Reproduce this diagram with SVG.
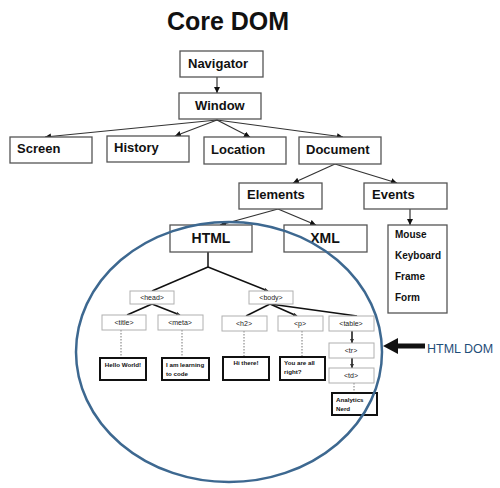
<svg xmlns="http://www.w3.org/2000/svg" width="500" height="488" viewBox="0 0 500 488">
<style>
.bx{fill:#fff;stroke:#555;stroke-width:1.3}
.tg{fill:#fff;stroke:#b0b0b0;stroke-width:1}
.ct{fill:#fff;stroke:#111;stroke-width:2}
.t{font-family:"Liberation Sans",Arial,sans-serif;font-weight:bold;fill:#111}
.b{font-size:13px}
.s{font-size:10px}
.x{font-size:7px;font-weight:normal;fill:#222}
.c{font-size:6.2px}
.ln{stroke:#333;stroke-width:1.2;fill:none}
.lk{stroke:#111;stroke-width:1.5;fill:none}
.dt{stroke:#777;stroke-width:1;stroke-dasharray:1.5 1.5;fill:none}
</style>
<defs>
<marker id="ah" viewBox="0 0 10 10" refX="10" refY="5" markerWidth="6" markerHeight="6" markerUnits="userSpaceOnUse" orient="auto"><path d="M0,0L10,5L0,10z" fill="#111"/></marker>
<marker id="as" viewBox="0 0 10 10" refX="10" refY="5" markerWidth="4" markerHeight="4" markerUnits="userSpaceOnUse" orient="auto"><path d="M0,0L10,5L0,10z" fill="#333"/></marker>
</defs>
<rect width="500" height="488" fill="#fff"/>
<text x="228" y="30" text-anchor="middle" font-family="'Liberation Sans',Arial,sans-serif" font-weight="bold" font-size="25" fill="#111">Core DOM</text>

<g id="connectors">
<line class="ln" x1="217" y1="77" x2="217" y2="93" marker-end="url(#ah)"/>
<line class="ln" x1="217" y1="120" x2="45" y2="137" marker-end="url(#ah)"/>
<line class="ln" x1="217" y1="120" x2="175" y2="136" marker-end="url(#ah)"/>
<line class="ln" x1="217" y1="120" x2="250" y2="137" marker-end="url(#ah)"/>
<line class="ln" x1="217" y1="120" x2="343" y2="137" marker-end="url(#ah)"/>
<line class="ln" x1="335" y1="164" x2="293" y2="183" marker-end="url(#ah)"/>
<line class="ln" x1="335" y1="164" x2="397" y2="183" marker-end="url(#ah)"/>
<line class="ln" x1="278" y1="209" x2="220" y2="225" marker-end="url(#ah)"/>
<line class="ln" x1="278" y1="209" x2="316" y2="225" marker-end="url(#ah)"/>
<line class="ln" x1="410" y1="209" x2="410" y2="225" marker-end="url(#ah)"/>
<line class="lk" x1="208" y1="252" x2="208" y2="267"/>
<line class="lk" x1="208" y1="267" x2="152" y2="291"/>
<line class="lk" x1="208" y1="267" x2="268" y2="291" marker-end="url(#as)"/>
<line class="lk" x1="152" y1="304" x2="127" y2="315"/>
<line class="lk" x1="152" y1="304" x2="180" y2="315" marker-end="url(#as)"/>
<line class="lk" x1="270" y1="304" x2="246" y2="316"/>
<line class="lk" x1="270" y1="304" x2="297" y2="316" marker-end="url(#as)"/>
<line class="lk" x1="270" y1="304" x2="357" y2="316"/>
<line class="lk" x1="352" y1="331" x2="352" y2="343" marker-end="url(#as)"/>
<line class="lk" x1="352" y1="358" x2="352" y2="368" marker-end="url(#as)"/>
<line class="dt" x1="121" y1="330" x2="121" y2="358"/>
<line class="dt" x1="182" y1="330" x2="182" y2="358"/>
<line class="dt" x1="244" y1="331" x2="244" y2="357"/>
<line class="dt" x1="302" y1="331" x2="302" y2="357"/>
<line class="dt" x1="354" y1="383" x2="354" y2="393"/>
</g>

<g id="navigator"><rect class="bx" x="180" y="51" width="83" height="26"/><text class="t b" x="188" y="68">Navigator</text></g>
<g id="window"><rect class="bx" x="179" y="93" width="82" height="26"/><text class="t b" x="195" y="110">Window</text></g>
<g id="screen"><rect class="bx" x="10" y="137" width="82" height="26"/><text class="t b" x="17" y="153">Screen</text></g>
<g id="history"><rect class="bx" x="107" y="136" width="82" height="26"/><text class="t b" x="114" y="152">History</text></g>
<g id="location"><rect class="bx" x="204" y="137" width="82" height="27"/><text class="t b" x="211" y="154">Location</text></g>
<g id="document"><rect class="bx" x="299" y="137" width="82" height="27"/><text class="t b" x="306" y="154">Document</text></g>
<g id="elements"><rect class="bx" x="239" y="183" width="83" height="26"/><text class="t b" x="247" y="199">Elements</text></g>
<g id="events"><rect class="bx" x="364" y="183" width="83" height="26"/><text class="t b" x="372" y="199">Events</text></g>
<g id="events-list"><rect class="bx" x="388" y="225" width="59" height="88"/>
<text class="t s" x="395" y="238">Mouse</text><text class="t s" x="395" y="259">Keyboard</text><text class="t s" x="395" y="280">Frame</text><text class="t s" x="395" y="301">Form</text></g>
<g id="html"><rect class="bx" x="170" y="225" width="82" height="27"/><text class="t" font-size="14" x="211" y="243" text-anchor="middle">HTML</text></g>
<g id="xml"><rect class="bx" x="284" y="225" width="83" height="27"/><text class="t" font-size="14" x="325" y="243" text-anchor="middle">XML</text></g>

<g id="head"><rect class="tg" x="130" y="291" width="44" height="13"/><text class="t x" x="152" y="300" text-anchor="middle">&lt;head&gt;</text></g>
<g id="body"><rect class="tg" x="249" y="291" width="44" height="13"/><text class="t x" x="271" y="300" text-anchor="middle">&lt;body&gt;</text></g>
<g id="title"><rect class="tg" x="102" y="315" width="44" height="15"/><text class="t x" x="124" y="325" text-anchor="middle">&lt;title&gt;</text></g>
<g id="meta"><rect class="tg" x="158" y="315" width="45" height="15"/><text class="t x" x="180" y="325" text-anchor="middle">&lt;meta&gt;</text></g>
<g id="h2"><rect class="tg" x="222" y="316" width="45" height="15"/><text class="t x" x="244" y="326" text-anchor="middle">&lt;h2&gt;</text></g>
<g id="p"><rect class="tg" x="278" y="316" width="45" height="15"/><text class="t x" x="300" y="326" text-anchor="middle">&lt;p&gt;</text></g>
<g id="table"><rect class="tg" x="329" y="316" width="45" height="15"/><text class="t x" x="351" y="326" text-anchor="middle">&lt;table&gt;</text></g>
<g id="tr"><rect class="tg" x="329" y="343" width="45" height="15"/><text class="t x" x="351" y="353" text-anchor="middle">&lt;tr&gt;</text></g>
<g id="td"><rect class="tg" x="329" y="368" width="45" height="15"/><text class="t x" x="351" y="378" text-anchor="middle">&lt;td&gt;</text></g>

<g id="hello"><rect class="ct" x="100" y="358" width="46" height="22"/><text class="t c" x="123" y="367" text-anchor="middle">Hello World!</text></g>
<g id="learning"><rect class="ct" x="162" y="358" width="47" height="22"/><text class="t c" x="166" y="367">I am learning</text><text class="t c" x="166" y="376">to code</text></g>
<g id="hithere"><rect class="ct" x="223" y="357" width="46" height="23"/><text class="t c" x="246" y="365" text-anchor="middle">Hi there!</text></g>
<g id="allright"><rect class="ct" x="280" y="357" width="45" height="23"/><text class="t c" x="284" y="365">You are all</text><text class="t c" x="284" y="374">right?</text></g>
<g id="analytics"><rect class="ct" x="332" y="393" width="45" height="22"/><text class="t c" x="336" y="402">Analytics</text><text class="t c" x="336" y="411">Nerd</text></g>

<ellipse cx="229" cy="352" rx="153" ry="130" fill="none" stroke="#3d6890" stroke-width="2.5"/>

<g id="html-dom-label">
<path d="M383,346L398,338L398,343.5L425,343.5L425,348.5L398,348.5L398,354z" fill="#111"/>
<text x="427" y="353" font-family="'Liberation Sans',Arial,sans-serif" font-size="12.5" fill="#1f4e79">HTML DOM</text>
</g>
</svg>
